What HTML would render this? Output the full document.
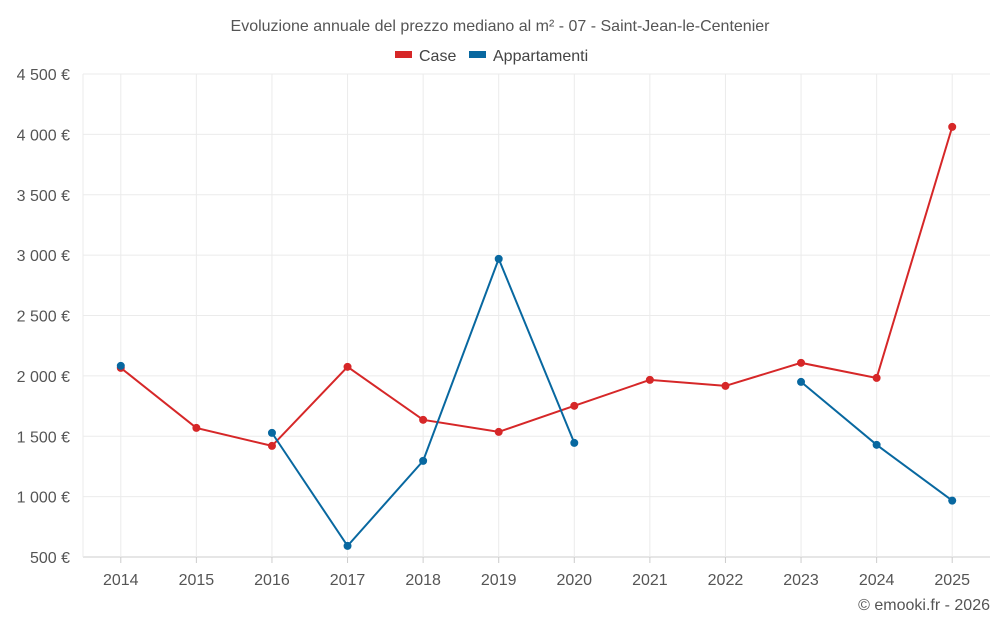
<!DOCTYPE html>
<html><head><meta charset="utf-8">
<style>
body{margin:0;background:#fff;font-family:"Liberation Sans",sans-serif;}
svg text{font-family:"Liberation Sans",sans-serif;}
</style></head>
<body>
<svg id="chart" width="1000" height="625" xmlns="http://www.w3.org/2000/svg">
<text x="500" y="31" text-anchor="middle" font-size="16" fill="#555">Evoluzione annuale del prezzo mediano al m² - 07 - Saint-Jean-le-Centenier</text>
<g>
<g><rect x="395" y="51" width="17" height="7" fill="#d62728"/><text x="419" y="61" font-size="16" fill="#444">Case</text></g>
<g><rect x="469" y="51" width="17" height="7" fill="#0868a0"/><text x="493" y="61" font-size="16" fill="#444">Appartamenti</text></g>
</g>
<g id="grid"></g><g id="axes"></g><g id="series"></g>
<text x="990" y="610" text-anchor="end" font-size="16" fill="#555">© emooki.fr - 2026</text>
</svg>
<script>
const categories=[2014,2015,2016,2017,2018,2019,2020,2021,2022,2023,2024,2025];
const caseValues=[2066,1569,1420,2075,1636,1536,1752,1967,1917,2108,1983,4062];
const appValues=[2083,null,1528,592,1296,2969,1445,null,null,1950,1429,967];
const yTicks=[500,1000,1500,2000,2500,3000,3500,4000,4500];
const yTickLabels=["500 €","1 000 €","1 500 €","2 000 €","2 500 €","3 000 €","3 500 €","4 000 €","4 500 €"];
const L=83,R=990,T=74,B=557,yMin=500,yMax=4500;
const bw=(R-L)/categories.length;
function xs(i){return L+bw*(i+0.5);}
function ys(v){return B-(v-yMin)/(yMax-yMin)*(B-T);}
const NS="http://www.w3.org/2000/svg";
function mk(tag,attrs,parent){const e=document.createElementNS(NS,tag);for(const k in attrs)e.setAttribute(k,attrs[k]);parent.appendChild(e);return e;}
const grid=document.getElementById('grid'),axes=document.getElementById('axes'),ser=document.getElementById('series');
yTicks.forEach((t,i)=>{
 const l=mk('line',{x1:L,x2:R,y1:ys(t),y2:ys(t),stroke:i==0?'#ccc':'#ebebeb','stroke-width':1},grid);
 
 
 const tx=mk('text',{x:70,y:ys(t)+6,'text-anchor':'end','font-size':16,fill:'#555'},axes);
 tx.textContent=yTickLabels[i];
 
 
});
mk('line',{x1:L,x2:L,y1:T,y2:B,stroke:'#ebebeb'},grid);
categories.forEach((c,i)=>{
 const l=mk('line',{x1:xs(i),x2:xs(i),y1:T,y2:B,stroke:'#ebebeb'},grid);
 
 
 const tk=mk('line',{x1:xs(i),x2:xs(i),y1:B,y2:B+6,stroke:'#ccc'},axes);
 const tx=mk('text',{x:xs(i),y:585,'text-anchor':'middle','font-size':16,fill:'#555'},axes);
 tx.textContent=c;
 
 
});
function drawSeries(vals,color,name){
 let segs=[],cur=[];
 vals.forEach((v,i)=>{if(v==null){if(cur.length)segs.push(cur);cur=[];}else cur.push([xs(i),ys(v)]);});
 if(cur.length)segs.push(cur);
 segs.forEach(s=>{if(s.length>1){const p=mk('polyline',{points:s.map(q=>q.join(',')).join(' '),fill:'none',stroke:color,'stroke-width':2},ser);
  
  }});
 vals.forEach((v,i)=>{if(v==null)return;const c=mk('circle',{cx:xs(i),cy:ys(v),r:4,fill:color},ser);
  
  });
}
drawSeries(caseValues,'#d62728','case');
drawSeries(appValues,'#0868a0','appartamenti');
</script>
</body></html>
